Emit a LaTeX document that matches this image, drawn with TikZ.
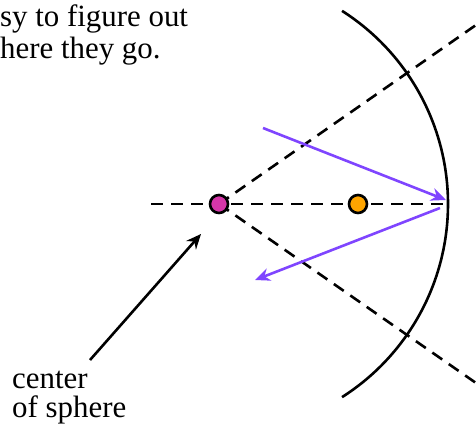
\documentclass[tikz,border=0pt]{standalone}
\usepackage{fontspec}
\setmainfont{Liberation Serif}
\newfontfamily\lblfont{Liberation Serif}
\usetikzlibrary{arrows.meta,calc}
\definecolor{ray}{HTML}{7F45FF}
\definecolor{cdot}{HTML}{D536A8}
\definecolor{fdot}{HTML}{FFA500}
\begin{document}
\begin{tikzpicture}[x=1bp,y=-1bp,
  guide/.style={black,line width=2.6bp,dash pattern=on 12bp off 8bp},
  raystyle/.style={ray,line width=2.6bp,-{Stealth[length=15bp,width=13bp,inset=5bp]}},
  dotstyle/.style={circle,draw=black,line width=2.6bp,minimum size=18bp,inner sep=0pt},
  lbl/.style={font=\lblfont\fontsize{31}{32}\selectfont,inner sep=0pt}]
\useasboundingbox (0,0) rectangle (476,434);
% guides
\coordinate (axL) at (151,204);
\coordinate (V) at (447,204);
\coordinate (C) at (219,204);
\coordinate (UR) at (476,25);
\coordinate (LR) at (476,383);
\draw[guide] (axL) -- (V);
\draw[guide] (C) -- (UR);
\draw[guide] (C) -- (LR);
% mirror
\draw[black,line width=2.6bp] ($(C)+(-57.5:229)$) arc[start angle=-57.5,end angle=57.5,radius=229];
% dots
\node[dotstyle,fill=cdot] (cen) at (C) {};
\node[dotstyle,fill=fdot] (foc) at (358,204) {};
% rays
\coordinate (r1s) at (263,128);
\coordinate (r1e) at (446,200);
\coordinate (r2s) at (440,208);
\coordinate (r2e) at (255,280);
\draw[raystyle] (r1s) -- (r1e);
\draw[raystyle] (r2s) -- (r2e);
% labels
\node[lbl,anchor=base west] (t1) at (0,27) {sy to figure out};
\node[lbl,anchor=base west] (t2) at (0,59) {here they go.};
\node[lbl,anchor=base west] (cs1) at (12,388) {center};
\node[lbl,anchor=base west] (cs2) at (12,417) {of sphere};
\draw[black,line width=2.6bp,-{Stealth[length=15bp,width=13bp,inset=5bp]}] (90,360) -- (201,234);
\end{tikzpicture}
\end{document}
